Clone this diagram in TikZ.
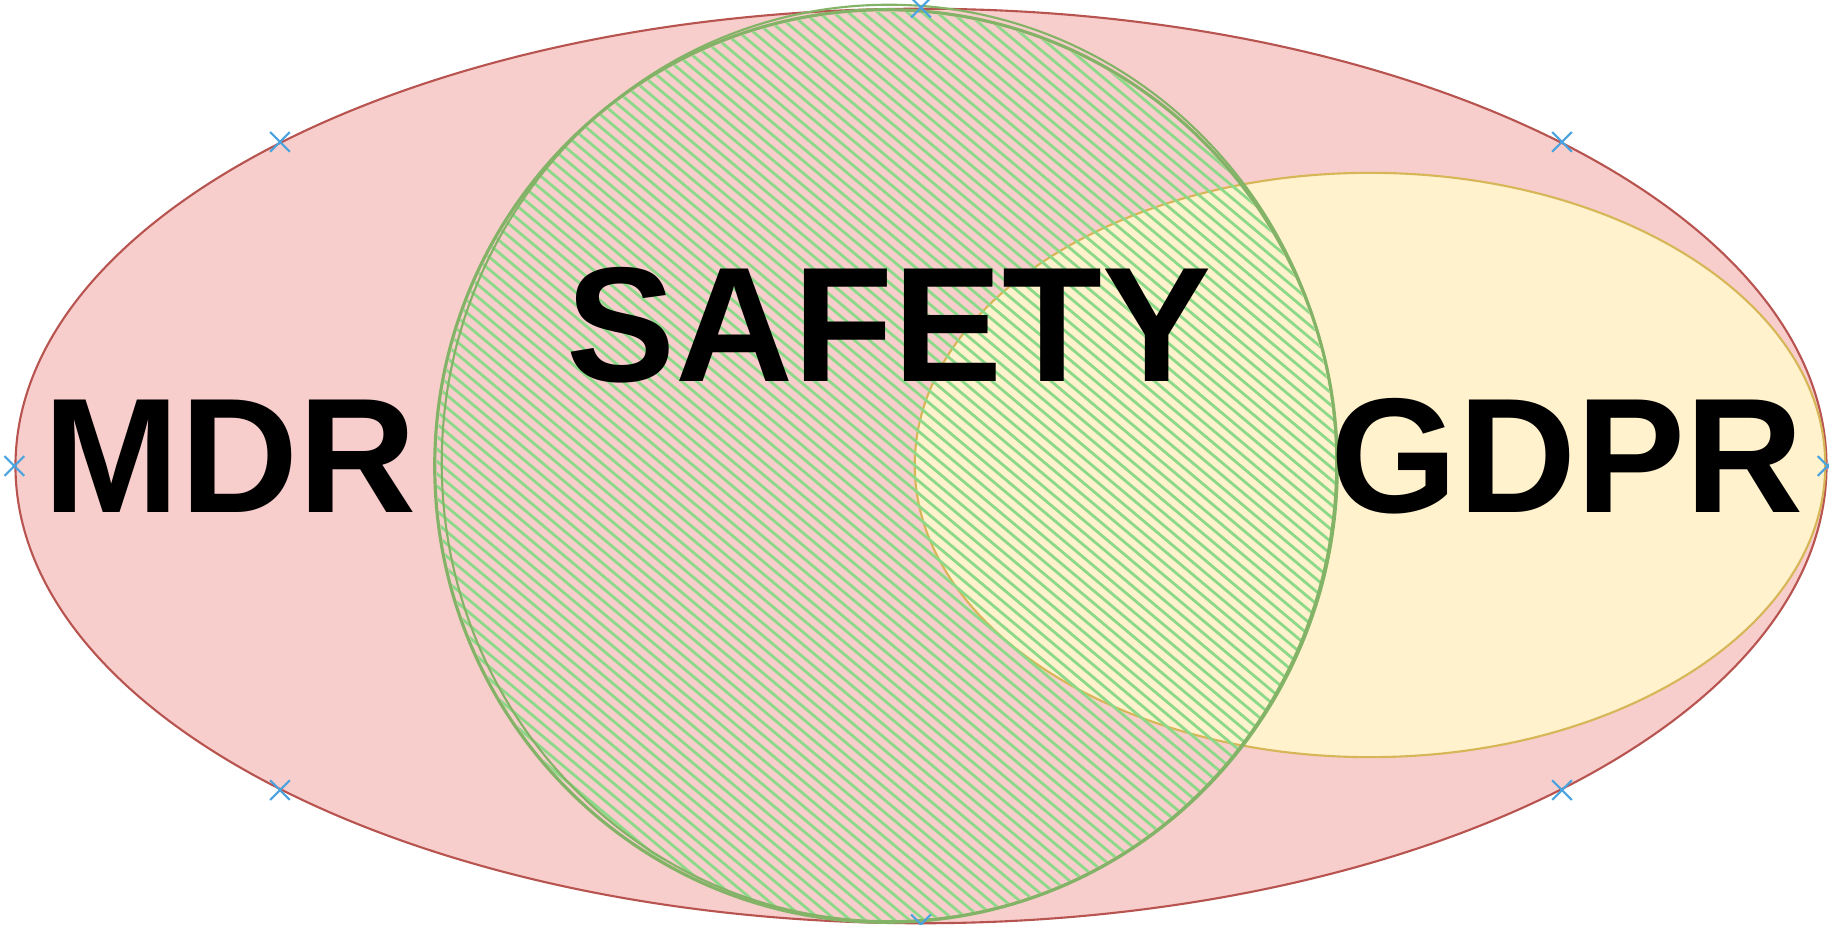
\documentclass[tikz,border=0pt]{standalone}
\usepackage{fontspec}
\setmainfont{Liberation Sans}
\usetikzlibrary{shapes.geometric,shapes.misc,calc}
\definecolor{mdrfill}{HTML}{F8CECC}
\definecolor{mdrline}{HTML}{B85450}
\definecolor{gdprfill}{HTML}{FFF2CC}
\definecolor{gdprline}{HTML}{D6B656}
\definecolor{safeline}{HTML}{82B366}
\definecolor{hatch}{HTML}{8CD98A}
\definecolor{marker}{HTML}{4AA3DF}
\tikzset{
  setshape/.style={ellipse, inner sep=0pt, line width=0.6pt},
  label/.style={font=\bfseries\fontsize{46.5}{50}\selectfont, inner sep=0pt, text=black},
  xmark/.style={cross out, draw=marker, line width=0.6pt, minimum size=5pt, inner sep=0pt},
}
\begin{document}
\begin{tikzpicture}[x=0.01cm, y=-0.01cm]
\useasboundingbox (0,0) rectangle (1829,925);
% MDR
\node[setshape, draw=mdrline, fill=mdrfill, minimum width=18.10cm, minimum height=9.14cm] (mdr) at (921,466) {};
% GDPR
\node[setshape, draw=gdprline, fill=gdprfill, minimum width=9.10cm, minimum height=5.84cm] (gdpr) at (1370,465) {};
% SAFETY (hachure)
\node[setshape, minimum width=9.02cm, minimum height=9.12cm] (safe) at (886,466) {};
\begin{scope}
  \clip (886,466) ellipse [x radius=4.49cm, y radius=4.54cm];
  \foreach \k in {-52,...,52} {
    \draw[hatch, line width=0.8pt]
      ($(886,466)+(\k*-6.11,\k*7.28)+(-536,-450)$) -- ($(886,466)+(\k*-6.11,\k*7.28)+(536,450)$);
  }
\end{scope}
\draw[safeline, line width=0.9pt] (886,466) ellipse [x radius=4.51cm, y radius=4.56cm];
\draw[safeline, line width=0.6pt] (889,463) ellipse [x radius=4.47cm, y radius=4.58cm];
% markers on MDR ellipse
\foreach \a in {north, south, east, west, north east, north west, south east, south west}
  \node[xmark] at (mdr.\a) {};
% labels
\node[label] (tmdr) at (230,456) {MDR};
\node[label] (tsafe) at (889,325) {SAFETY};
\node[label] (tgdpr) at (1567,456) {GDPR};
\end{tikzpicture}
\end{document}
